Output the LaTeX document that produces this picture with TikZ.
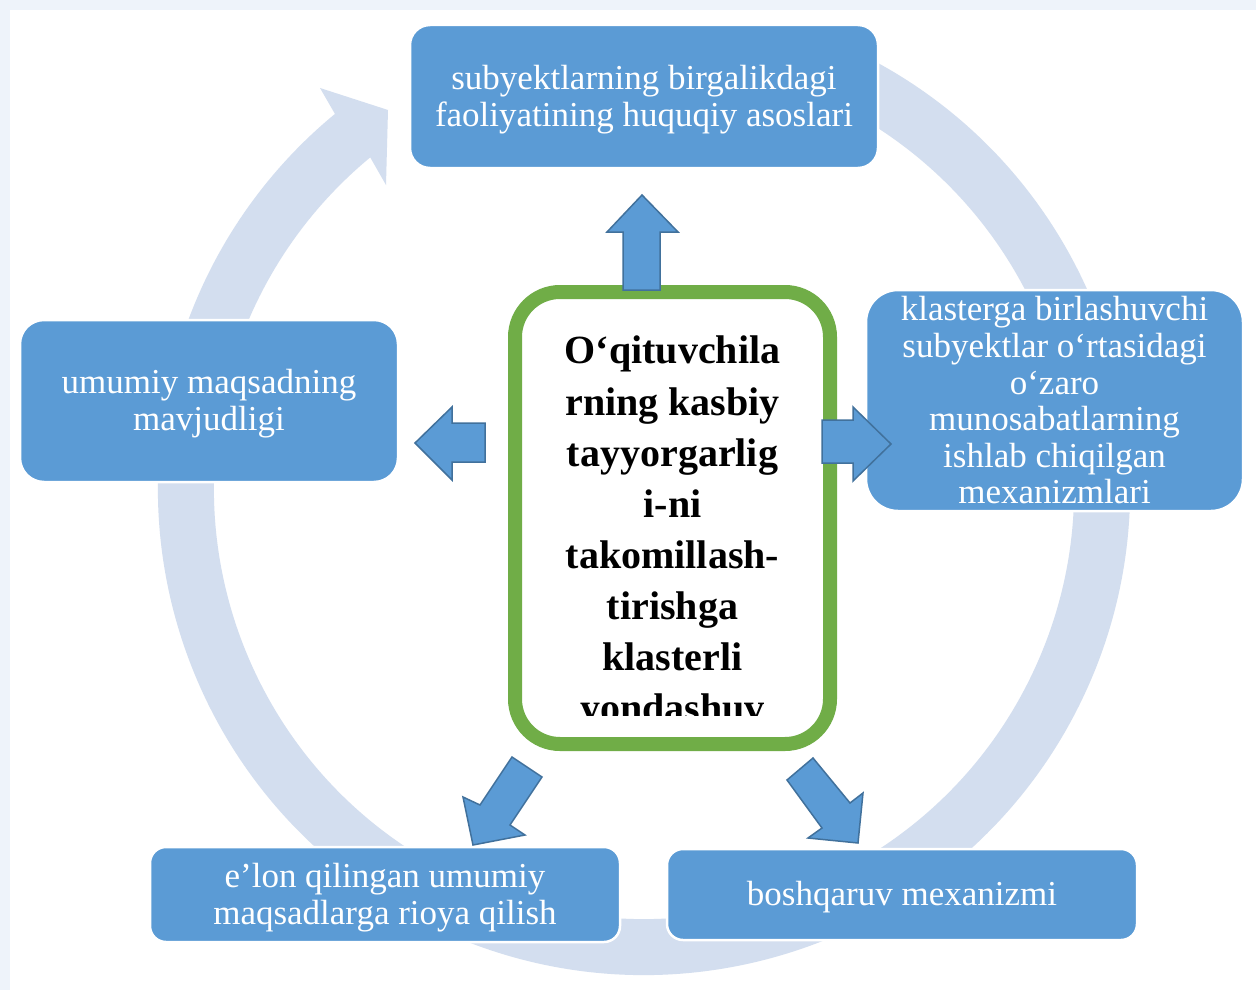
\documentclass[tikz,border=0pt]{standalone}
\usepackage{fontspec}
\setmainfont{Liberation Serif}
\definecolor{boxblue}{RGB}{91,155,213}
\definecolor{arrowline}{RGB}{65,113,156}
\definecolor{coregreen}{RGB}{112,173,71}
\definecolor{ringblue}{RGB}{211,222,239}
\definecolor{pagebg}{RGB}{238,243,250}
\newcommand{\lowstrut}{\rule{0pt}{30pt}}
\begin{document}
\begin{tikzpicture}[x=1pt,y=-1pt,
  box/.style={draw=white, line width=2.5pt, fill=boxblue, text=white,
    rounded corners=#1, inner sep=0pt, align=center,
    font=\fontsize{35}{36.6}\selectfont},
  box/.default=18pt,
  blockarrow/.style={fill=boxblue, draw=arrowline, line width=1.5pt, line join=miter},
  ring/.style={draw=ringblue, line width=56pt},
  ringhead/.style={fill=ringblue}
]
\useasboundingbox (0,0) rectangle (1256,990);
\fill[pagebg] (0,0) rectangle (1256,990);
\fill[white] (10,10) rectangle (1256,990);

% cycle ring with arrow head
\coordinate (rc) at (644,489);
\draw[ring] (rc) ++(65:458pt) arc[start angle=65, end angle=-231, radius=458pt];
\fill[ringhead] (335,114) -- (320,88) -- (388,110) -- (386,185) -- (370,157) -- cycle;

% outer boxes
\node[box=20pt, minimum width=468pt, minimum height=143pt] (top) at (644,96.5)
  {\lowstrut subyektlarning birgalikdagi\\faoliyatining huquqiy asoslari};
\node[box=24pt, minimum width=378pt, minimum height=162pt] (left) at (209,401)
  {\lowstrut umumiy maqsadning\\mavjudligi};
\node[box=32pt, minimum width=377pt, minimum height=221pt] (right) at (1054.5,400.5)
  {klasterga birlashuvchi\\subyektlar o‘rtasidagi\\o‘zaro\\munosabatlarning\\ishlab chiqilgan\\mexanizmlari};
\node[box=16pt, minimum width=470pt, minimum height=95pt] (bl) at (385,894.5)
  {\lowstrut e’lon qilingan umumiy\\maqsadlarga rioya qilish};
\node[box=16pt, minimum width=470pt, minimum height=91pt] (br) at (902,894.5)
  {\lowstrut boshqaruv mexanizmi};

% central box
\node[draw=coregreen, line width=14pt, fill=white, rounded corners=45pt,
  minimum width=315pt, minimum height=452pt, inner sep=0pt] (core) at (672.5,518) {};
\begin{scope}
  \clip (524,300) rectangle (821,715);
  \node[anchor=north, inner sep=0pt, align=center,
    font=\bfseries\fontsize{40}{51.1}\selectfont] (coretext) at (672.5,336)
    {O‘qituvchila\\rning kasbiy\\tayyorgarlig\\i-ni\\takomillash-\\tirishga\\klasterli\\yondashuv};
\end{scope}

% block arrows
\draw[blockarrow] (623,290) -- (623,232) -- (607,232) -- (642,195) -- (678,232) -- (660,232) -- (660,290) -- cycle;
\draw[blockarrow] (485,423) -- (452,423) -- (452,407) -- (415,443) -- (452,480) -- (452,462) -- (485,462) -- cycle;
\draw[blockarrow] (822,420) -- (853,420) -- (853,407) -- (891,444) -- (853,481) -- (853,463) -- (822,463) -- cycle;
\draw[blockarrow] (512,757) -- (480,805) -- (463,797) -- (473,845) -- (525,835) -- (510,825) -- (542,777) -- cycle;
\draw[blockarrow] (787,780) -- (813,758) -- (850,803) -- (863,793) -- (858,843) -- (808,838) -- (822,828) -- cycle;
\end{tikzpicture}
\end{document}
